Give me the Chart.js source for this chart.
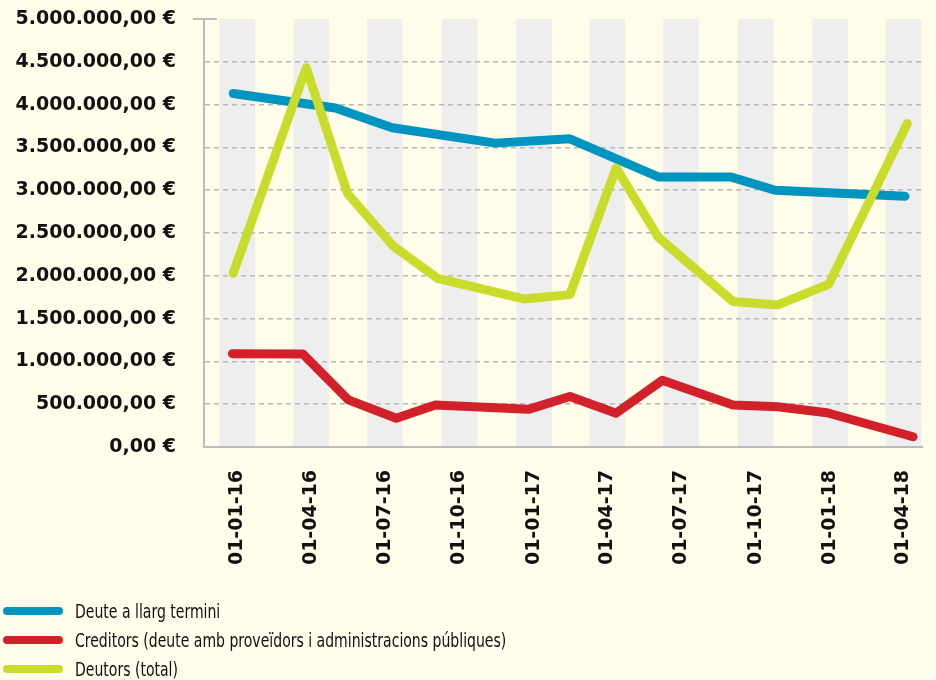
<!DOCTYPE html>
<html>
<head>
<meta charset="utf-8">
<title>Deute, creditors i deutors</title>
<script src="https://cdn.jsdelivr.net/npm/chart.js@4.4.1/dist/chart.umd.min.js"></script>
<style>
  html, body { margin: 0; padding: 0; background: #fffce9; }
  #wrap { position: relative; width: 936px; height: 680px; }
  #legend {
    position: absolute; left: 0; top: 596px;
    font-family: 'DejaVu Sans Condensed', 'DejaVu Sans', sans-serif;
    font-stretch: condensed;
    font-size: 20px; color: #111;
  }
  .item { display: flex; align-items: center; height: 29px; white-space: nowrap; }
  .swatch { width: 60px; height: 8px; border-radius: 4px; margin-left: 3px; margin-right: 12px; flex: none; }
  .label { display: inline-block; transform: scaleX(0.78); transform-origin: left center; }
</style>
</head>
<body>
<div id="wrap">
  <canvas id="myChart" width="936" height="680"></canvas>
  <div id="legend"></div>
</div>
<script>
'use strict';

/** Data */
let tickDates = ['2016-01-01', '2016-04-01', '2016-07-01', '2016-10-01', '2017-01-01',
  '2017-04-01', '2017-07-01', '2017-10-01', '2018-01-01', '2018-04-01'];
let tickLabels = ['01-01-16', '01-04-16', '01-07-16', '01-10-16', '01-01-17',
  '01-04-17', '01-07-17', '01-10-17', '01-01-18', '01-04-18'];

// Deute a llarg termini
let debtDates = ['2015-12-27', '2016-05-01', '2016-07-10', '2016-11-14', '2017-02-14',
  '2017-06-03', '2017-08-31', '2017-10-25', '2018-04-03'];
let debtValues = [4130000, 3960000, 3730000, 3550000, 3600000,
  3155000, 3155000, 3000000, 2930000];

// Creditors
let creditorDates = ['2015-12-26', '2016-03-22', '2016-05-17', '2016-07-15', '2016-09-01',
  '2016-12-25', '2017-02-14', '2017-04-12', '2017-06-08', '2017-09-03',
  '2017-10-28', '2017-12-28', '2018-04-13'];
let creditorValues = [1090000, 1085000, 550000, 335000, 490000,
  440000, 590000, 395000, 780000, 490000,
  470000, 400000, 120000];

// Deutors (total)
let debtorDates = ['2015-12-27', '2016-03-26', '2016-05-16', '2016-07-11', '2016-09-04',
  '2016-12-19', '2017-02-14', '2017-04-12', '2017-06-03', '2017-09-03',
  '2017-10-28', '2017-12-30', '2018-04-06'];
let debtorValues = [2030000, 4430000, 2960000, 2350000, 1970000,
  1730000, 1780000, 3260000, 2450000, 1700000,
  1660000, 1900000, 3780000];

/** Helpers */
let origin = Date.UTC(2016, 0, 1);

function dayOf(str) {
  let p = str.split('-');
  return (Date.UTC(+p[0], +p[1] - 1, +p[2]) - origin) / 86400000;
}

function toPoints(dates, values) {
  let pts = [];
  for (let i = 0; i < dates.length; i++) {
    pts.push({ x: dayOf(dates[i]), y: values[i] });
  }
  return pts;
}

function euro(v) {
  let parts = v.toFixed(2).split('.');
  return parts[0].replace(/\B(?=(\d{3})+(?!\d))/g, '.') + ',' + parts[1] + ' €';
}

let tickDays = tickDates.map(dayOf);

// grey bands behind each labelled quarter + short cap at the top of the axis
let bandsPlugin = {
  id: 'bands',
  beforeDraw(chart) {
    let c = chart.ctx;
    let area = chart.chartArea;
    let xs = chart.scales.x;
    c.save();
    c.fillStyle = '#eeeeee';
    tickDays.forEach(function (d) {
      let l = xs.getPixelForValue(d - 22);
      let r = Math.min(xs.getPixelForValue(d + 22), area.right);
      c.fillRect(l, area.top, r - l, area.bottom - area.top);
    });
    c.restore();
  },
  afterDraw(chart) {
    let c = chart.ctx;
    let top = chart.scales.y.getPixelForValue(5000000);
    let left = chart.chartArea.left;
    c.save();
    c.strokeStyle = '#bbbbbb';
    c.lineWidth = 2;
    c.beginPath();
    c.moveTo(left - 11, top);
    c.lineTo(left + 13, top);
    c.stroke();
    c.restore();
  }
};

let lineStyle = {
  borderWidth: 9,
  pointRadius: 0,
  tension: 0,
  borderCapStyle: 'round',
  borderJoinStyle: 'round',
  fill: false
};

let datasets = [
  Object.assign({ label: 'Deute a llarg termini', data: toPoints(debtDates, debtValues),
    borderColor: '#0094c0', backgroundColor: '#0094c0', order: 2 }, lineStyle),
  Object.assign({ label: 'Creditors (deute amb proveïdors i administracions públiques)',
    data: toPoints(creditorDates, creditorValues),
    borderColor: '#d3212b', backgroundColor: '#d3212b', order: 1 }, lineStyle),
  Object.assign({ label: 'Deutors (total)', data: toPoints(debtorDates, debtorValues),
    borderColor: '#c9db2b', backgroundColor: '#c9db2b', order: 0 }, lineStyle)
];

let chartObj = {
  type: 'line',
  data: { datasets: datasets },
  options: {
    responsive: false,
    devicePixelRatio: 1,
    animation: false,
    layout: { padding: { top: 19, right: 14, bottom: 0, left: 0 } },
    plugins: { legend: { display: false }, tooltip: { enabled: false } },
    scales: {
      x: {
        type: 'linear',
        min: -41,
        max: 844,
        afterBuildTicks(scale) {
          scale.ticks = tickDays.map(function (d) { return { value: d }; });
        },
        afterFit(scale) {
          scale.height = 233;
          // rotated labels sit well inside the plot, no overhang needed
          scale.paddingLeft = 0;
          scale.paddingRight = 0;
        },
        grid: { display: false, drawTicks: false },
        border: { display: true, color: '#bbbbbb', width: 2 },
        ticks: {
          autoSkip: false,
          maxRotation: 90,
          minRotation: 90,
          padding: 23,
          color: '#111',
          font: { family: "'DejaVu Sans', sans-serif", weight: 'bold', size: 19 },
          callback: function (value, index) { return tickLabels[index]; }
        }
      },
      y: {
        min: 0,
        max: 5000000,
        afterFit(scale) { scale.width = 204; },
        grid: {
          drawTicks: true,
          tickLength: 28,
          tickColor: 'rgba(0,0,0,0)',
          lineWidth: 1.5,
          color: function (ctx) {
            return ctx.tick && ctx.tick.value === 5000000 ? 'rgba(0,0,0,0)' : '#b8b8b8';
          }
        },
        border: { display: true, color: '#bbbbbb', width: 2, dash: [5, 4] },
        ticks: {
          stepSize: 500000,
          padding: 0,
          color: '#111',
          font: { family: "'DejaVu Sans', sans-serif", weight: 'bold', size: 19 },
          callback: function (value) { return euro(value); }
        }
      }
    }
  },
  plugins: [bandsPlugin]
};

let chart = new Chart(document.getElementById('myChart'), chartObj);

// HTML legend built from the datasets
let legendBox = document.getElementById('legend');
chart.data.datasets.forEach(function (ds) {
  let item = document.createElement('div');
  item.className = 'item';
  let swatch = document.createElement('span');
  swatch.className = 'swatch';
  swatch.style.background = ds.borderColor;
  let text = document.createElement('span');
  text.className = 'label';
  text.textContent = ds.label;
  item.appendChild(swatch);
  item.appendChild(text);
  legendBox.appendChild(item);
});
</script>
</body>
</html>
